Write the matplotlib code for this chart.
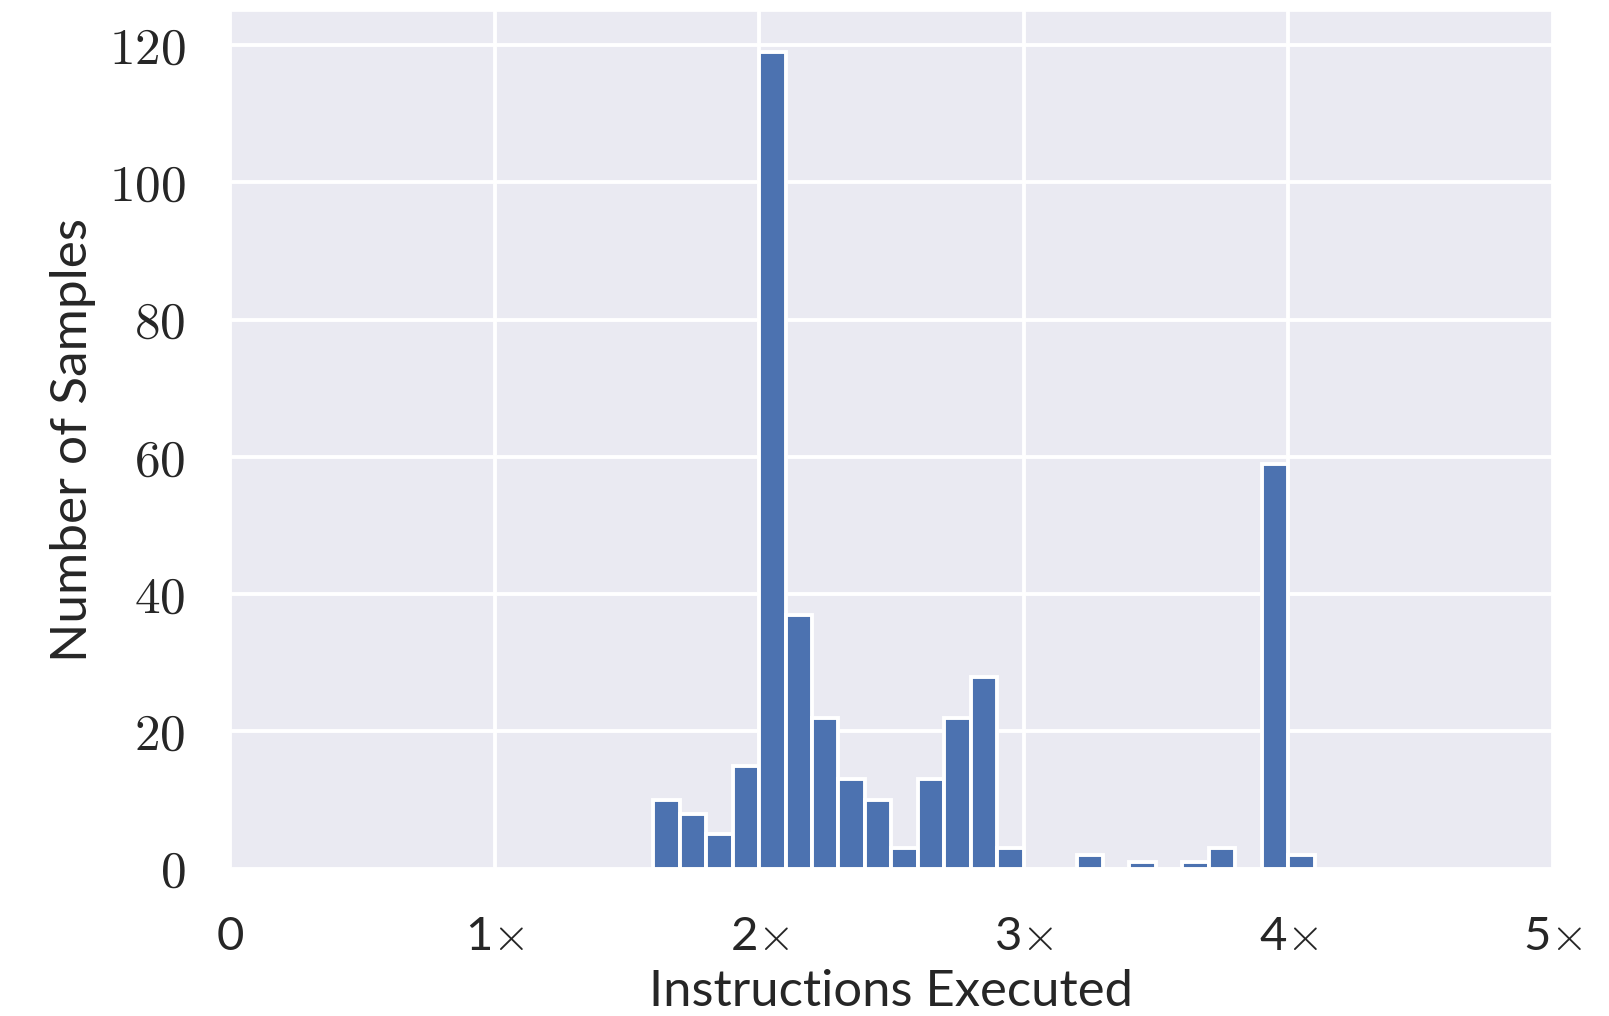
import matplotlib
matplotlib.use("Agg")
import matplotlib.pyplot as plt
import seaborn as sns
import numpy as np

# Data: histogram bins (left edges) and counts
bin_left = [1.6, 1.7, 1.8, 1.9, 2.0, 2.1, 2.2, 2.3, 2.4, 2.5, 2.6, 2.7, 2.8, 2.9,
            3.0, 3.1, 3.2, 3.3, 3.4, 3.5, 3.6, 3.7, 3.8, 3.9, 4.0]
counts = [10, 8, 5, 15, 119, 37, 22, 13, 10, 3, 13, 22, 28, 3,
          0, 0, 2, 0, 1, 0, 1, 3, 0, 59, 2]
bin_width = 0.1
xtick_vals = [0, 1, 2, 3, 4, 5]
xtick_labels = ["0", "1$\\times$", "2$\\times$", "3$\\times$", "4$\\times$", "5$\\times$"]
ytick_vals = [0, 20, 40, 60, 80, 100, 120]

sns.set_theme(style="darkgrid")
plt.rcParams["mathtext.fontset"] = "cm"
plt.rcParams["font.family"] = ["Lato", "DejaVu Sans"]

fig = plt.figure(figsize=(16.09, 10.16), dpi=100)
ax = fig.add_axes([0.143, 0.145, 0.822, 0.844])

ax.bar(bin_left, counts, width=bin_width, align="edge", color="#4C72B0",
       edgecolor="white", linewidth=2.8)

ax.set_xlim(0, 5)
ax.set_ylim(0, 124.95)
ax.grid(True, color="white", linewidth=2.8)
ax.set_axisbelow(True)

ax.set_xticks(xtick_vals)
ax.set_xticklabels(xtick_labels, fontsize=34, color="#262626")
ax.set_yticks(ytick_vals)
ax.set_yticklabels([f"${v}$" for v in ytick_vals], fontsize=37, color="#262626")
ax.tick_params(axis="x", pad=34, length=0)
ax.tick_params(axis="y", pad=32, length=0)

ax.set_xlabel("Instructions Executed", fontsize=36.5, color="#262626", labelpad=8)
ax.set_ylabel("Number of Samples", fontsize=37, color="#262626", labelpad=9)

fig.savefig("out.png", dpi=100)
